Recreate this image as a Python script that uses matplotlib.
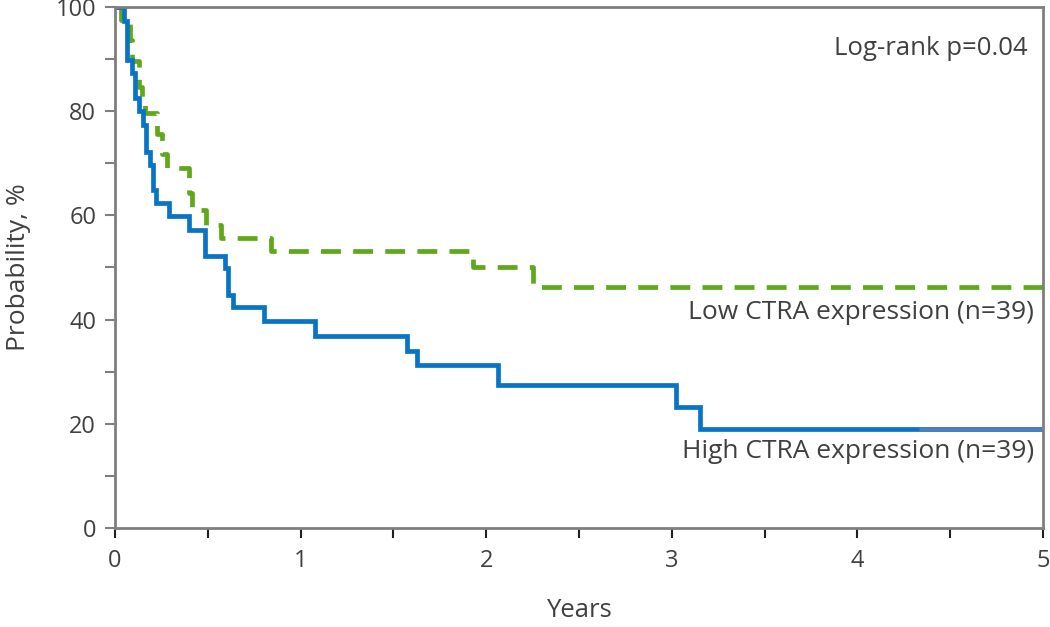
import numpy as np
import matplotlib.pyplot as plt

plt.rcParams['font.family'] = ['Open Sans', 'DejaVu Sans']

# Kaplan-Meier step data (years, % surviving)
high_t = [0, 0.048, 0.063, 0.090, 0.108, 0.131, 0.149, 0.167, 0.189, 0.203,
          0.221, 0.293, 0.400, 0.485, 0.593, 0.610, 0.634, 0.803, 1.078,
          1.572, 1.629, 2.065, 3.023, 3.152, 5.0]
high_s = [100, 97.3, 89.8, 87.4, 82.6, 80.0, 77.4, 72.2, 69.7, 64.9,
          62.3, 59.8, 57.2, 52.2, 49.9, 44.7, 42.4, 39.8, 36.9,
          34.0, 31.2, 27.4, 23.3, 19.0, 19.0]
high_faded_from = 4.33

low_t = [0, 0.031, 0.081, 0.092, 0.129, 0.144, 0.162, 0.226, 0.253, 0.283,
         0.399, 0.413, 0.490, 0.570, 0.839, 1.931, 2.254, 5.0]
low_s = [100, 97.4, 93.7, 89.7, 84.6, 82.1, 79.6, 75.7, 71.8, 69.0,
         64.2, 61.0, 58.2, 55.7, 53.1, 50.0, 46.2, 46.2]

txt = '#404040'
grey = '#7f7f7f'

fig = plt.figure(figsize=(10.5, 6.27), dpi=100)
ax = fig.add_axes([0.1095, 0.158, 0.8838, 0.831])

ax.step(low_t, low_s, where='post', color='#5fa81a', lw=3.4,
        dashes=(4.2, 2.6), dash_capstyle='butt', solid_capstyle='butt')
ht = np.array(high_t)
hs = np.array(high_s)
ax.step(ht, hs, where='post', color='#0a74c4', lw=3.4, solid_joinstyle='miter')
# last stretch of the high curve is drawn in a lighter blue in the original
ax.plot([high_faded_from, high_t[-1]], [high_s[-1], high_s[-1]],
        color='#4a80c2', lw=3.4, solid_capstyle='butt')

ax.set_xlim(0, 5)
ax.set_ylim(0, 100)
ax.set_xticks(np.arange(0, 5.01, 1))
ax.set_xticks(np.arange(0.5, 5, 1), minor=True)
ax.set_yticks(np.arange(0, 101, 20))
ax.set_yticks(np.arange(10, 100, 20), minor=True)

for s in ax.spines.values():
    s.set_color(grey)
    s.set_linewidth(2)

ax.tick_params(axis='x', which='both', direction='out', length=7.5, width=1.5,
               color='#202020', labelsize=17, labelcolor=txt, pad=8)
ax.tick_params(axis='y', which='both', direction='out', length=7.5, width=1.5,
               color=grey, labelsize=17, labelcolor=txt, pad=6)

ax.set_xlabel('Years', fontsize=18.5, color=txt, labelpad=18)
ax.set_ylabel('Probability, %', fontsize=19, color=txt, labelpad=18)

ax.text(4.92, 92, 'Log-rank p=0.04', ha='right', va='center', fontsize=18.5, color=txt)
ax.text(4.95, 41.3, 'Low CTRA expression (n=39)', ha='right', va='center',
        fontsize=19, color=txt)
ax.text(4.95, 14.6, 'High CTRA expression (n=39)', ha='right', va='center',
        fontsize=19, color=txt)

fig.savefig('out.png', dpi=100)
